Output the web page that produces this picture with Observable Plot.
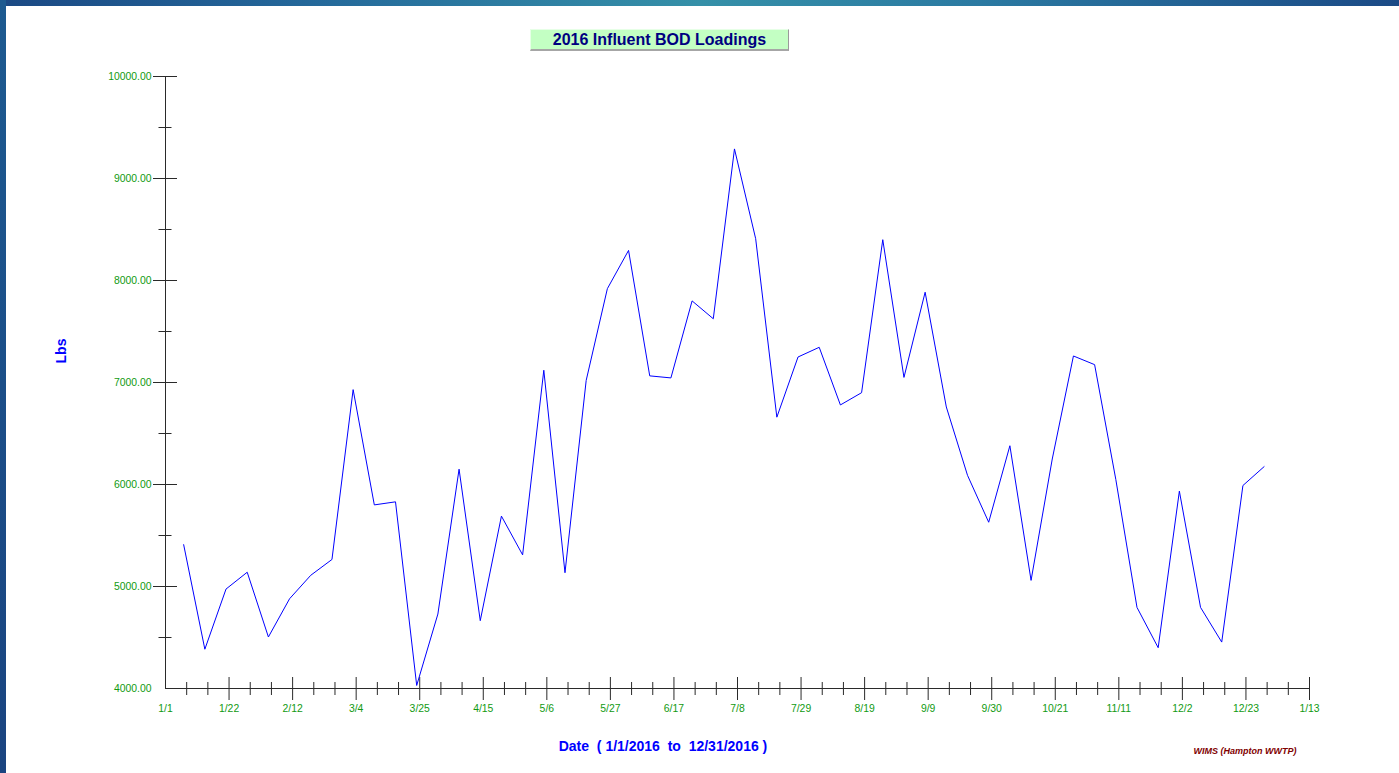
<!DOCTYPE html>
<html>
<head>
<meta charset="utf-8">
<script src="https://cdn.jsdelivr.net/npm/d3@7"></script>
<script src="https://cdn.jsdelivr.net/npm/@observablehq/plot@0.6"></script>
<style>
html, body { margin: 0; padding: 0; background: #ffffff; width: 1399px; height: 773px; overflow: hidden; font-family: "Liberation Sans", Arial, sans-serif; }
#wrap { position: relative; width: 1399px; height: 773px; }
#chart { position: absolute; left: 0; top: 0; }
#topbar { position: absolute; left: 0; top: 0; width: 1399px; height: 6px; z-index: 3;
  background: linear-gradient(90deg, #1b4984 0%, #24689a 22%, #3590a8 50%, #2b7aa2 70%, #1b4a86 100%); }
#leftbar { position: absolute; left: 0; top: 0; width: 6px; height: 773px; z-index: 3;
  background: linear-gradient(180deg, #1d5a90 0%, #1b4e88 50%, #1a4480 100%); }
#title { position: absolute; left: 530px; top: 29px; width: 257px; height: 19px; z-index: 2;
  background: #c3ffc3; border-top: 1px solid #e6ffe6; border-left: 1px solid #e6ffe6;
  border-right: 1px solid #9a9a9a; border-bottom: 2px solid #a6a6a6;
  color: #000080; font-weight: bold; font-size: 16px; line-height: 19px; text-align: center; white-space: pre; }
#ylab { position: absolute; left: 61px; top: 351px; z-index: 2; transform: translate(-50%, -50%) rotate(-90deg);
  color: #0000ff; font-weight: bold; font-size: 14px; white-space: pre; }
#xlab { position: absolute; left: 663px; top: 746px; z-index: 2; transform: translate(-50%, -50%);
  color: #0000ff; font-weight: bold; font-size: 14px; white-space: pre; }
#credit { position: absolute; left: 1245px; top: 751px; z-index: 2; transform: translate(-50%, -50%);
  color: #800000; font-weight: bold; font-style: italic; font-size: 9px; white-space: pre; }
</style>
</head>
<body>
<div id="wrap">
  <div id="topbar"></div>
  <div id="leftbar"></div>
  <div id="title"></div>
  <div id="ylab"></div>
  <div id="xlab"></div>
  <div id="credit"></div>
  <div id="chart"></div>
</div>
<script>
// ---- Data (weekly influent BOD loadings, lbs) ----
const titleText = "2016 Influent BOD Loadings";
const yLabelText = "Lbs";
const xLabelText = "Date  ( 1/1/2016  to  12/31/2016 )";
const creditText = "WIMS (Hampton WWTP)";

const sampleDates = [
  "2016-01-07","2016-01-14","2016-01-21","2016-01-28","2016-02-04","2016-02-11","2016-02-18","2016-02-25",
  "2016-03-03","2016-03-10","2016-03-17","2016-03-24","2016-03-31","2016-04-07","2016-04-14","2016-04-21",
  "2016-04-28","2016-05-05","2016-05-12","2016-05-19","2016-05-26","2016-06-02","2016-06-09","2016-06-16",
  "2016-06-23","2016-06-30","2016-07-07","2016-07-14","2016-07-21","2016-07-28","2016-08-04","2016-08-11",
  "2016-08-18","2016-08-25","2016-09-01","2016-09-08","2016-09-15","2016-09-22","2016-09-29","2016-10-06",
  "2016-10-13","2016-10-20","2016-10-27","2016-11-03","2016-11-10","2016-11-17","2016-11-24","2016-12-01",
  "2016-12-08","2016-12-15","2016-12-22","2016-12-29"
];
const bodLbs = [
  5410, 4385, 4975, 5140, 4505, 4880, 5110, 5265,
  6930, 5800, 5830, 4030, 4730, 6150, 4665, 5690,
  5310, 7120, 5135, 7020, 7920, 8295, 7065, 7045,
  7800, 7625, 9290, 8410, 6660, 7250, 7345, 6780,
  6900, 8400, 7050, 7885, 6760, 6090, 5630, 6380,
  5060, 6250, 7260, 7175, 6050, 4795, 4400, 5935,
  4795, 4455, 5990, 6175
];

// axis ticks
const xDomainDates = ["2016-01-01", "2017-01-13"];
const xMajorTickDates = ["2016-01-01","2016-01-22","2016-02-12","2016-03-04","2016-03-25","2016-04-15","2016-05-06",
  "2016-05-27","2016-06-17","2016-07-08","2016-07-29","2016-08-19","2016-09-09","2016-09-30","2016-10-21",
  "2016-11-11","2016-12-02","2016-12-23","2017-01-13"];
const yDomain = [4000, 10000];
const yMajorTicks = [4000, 5000, 6000, 7000, 8000, 9000, 10000];
const yMinorTicks = [4500, 5500, 6500, 7500, 8500, 9500];

// ---- Build ----
const parse = s => new Date(s + "T00:00:00Z");
const rows = sampleDates.map((d, i) => ({date: parse(d), value: bodLbs[i]}));
const xMajor = xMajorTickDates.map(parse);
const xDom = xDomainDates.map(parse);
// weekly minor ticks counted from Jan 1 (skipping majors)
const nDays = Math.round((xDom[1] - xDom[0]) / 864e5);
const xMinor = d3.range(7, nDays, 7)
  .map(k => d3.utcDay.offset(xDom[0], k))
  .filter(d => !xMajor.some(m => +m === +d));
const fmtDate = d => `${d.getUTCMonth() + 1}/${d.getUTCDate()}`;

document.getElementById("title").textContent = titleText;
document.getElementById("ylab").textContent = yLabelText;
document.getElementById("xlab").textContent = xLabelText;
document.getElementById("credit").textContent = creditText;

const axisColor = "#2a2a2a";
const labelColor = "#119a11";

const chart = Plot.plot({
  width: 1399,
  height: 773,
  marginLeft: 165,
  marginRight: 90,
  marginTop: 76,
  marginBottom: 85,
  style: {background: "transparent", fontFamily: "'Liberation Sans', Arial, sans-serif", overflow: "visible"},
  x: {type: "utc", domain: xDom},
  y: {domain: yDomain},
  marks: [
    // axis lines
    Plot.ruleY([yDomain[0]], {stroke: axisColor, strokeWidth: 1}),
    Plot.ruleX([xDom[0]], {stroke: axisColor, strokeWidth: 1}),
    // x ticks (straddling the axis)
    Plot.axisX({ticks: xMajor.slice(1), tickSize: 23, dy: -11, fill: "none", stroke: axisColor, label: null}),
    Plot.axisX({ticks: xMinor, tickSize: 13, dy: -6, fill: "none", stroke: axisColor, label: null}),
    Plot.axisX({ticks: xMajor, tickSize: 0, tickPadding: 16, tickFormat: fmtDate, fill: labelColor, fontSize: 10.4, label: null}),
    // y ticks
    Plot.axisY({ticks: yMajorTicks.slice(1), tickSize: 24, dx: 12, fill: "none", stroke: axisColor, label: null}),
    Plot.axisY({ticks: yMinorTicks, tickSize: 13, dx: 6.5, fill: "none", stroke: axisColor, label: null}),
    Plot.axisY({ticks: yMajorTicks, tickSize: 0, tickPadding: 14, tickFormat: d => d.toFixed(2), fill: labelColor, fontSize: 10.4, label: null}),
    // data line
    Plot.lineY(rows, {x: "date", y: "value", stroke: "#0000ff", strokeWidth: 1})
  ]
});
document.getElementById("chart").appendChild(chart);
</script>
</body>
</html>
